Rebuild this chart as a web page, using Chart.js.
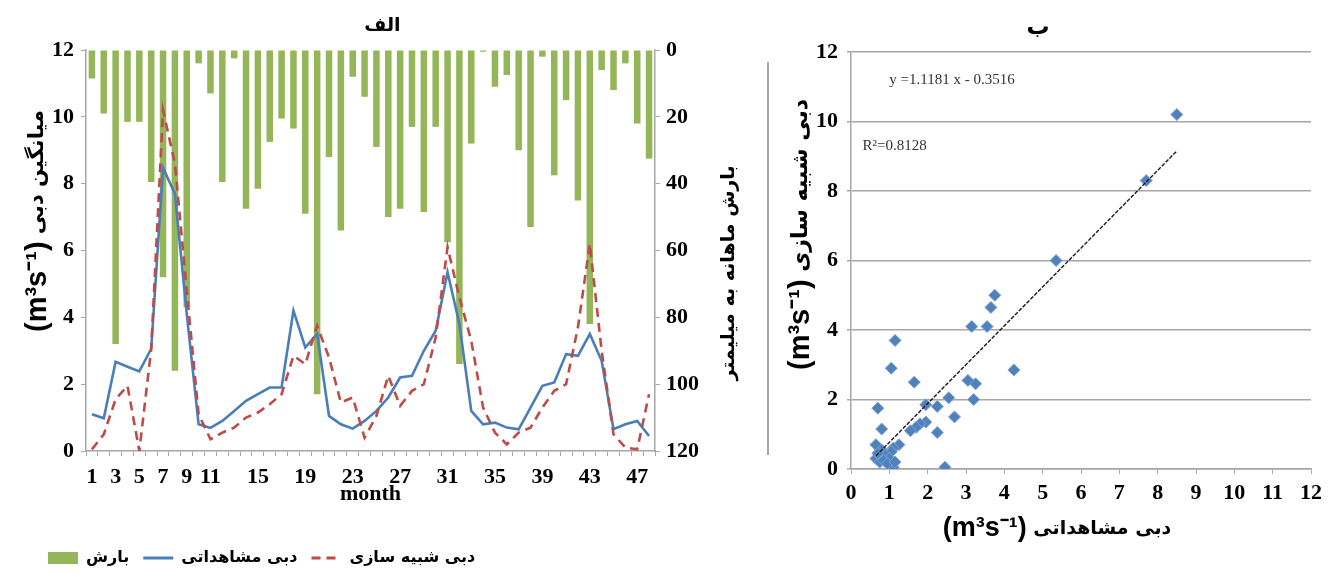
<!DOCTYPE html>
<html>
<head>
<meta charset="utf-8">
<script src="https://cdn.jsdelivr.net/npm/chart.js@4.4.1/dist/chart.umd.min.js"></script>
<style>
html,body{margin:0;padding:0;background:#ffffff;}
#wrap{position:relative;width:1330px;height:577px;overflow:hidden;background:#fff;}
.box{position:absolute;top:0;height:577px;}
</style>
</head>
<body>
<div id="wrap">
  <div class="box" style="left:0;width:765px;"><canvas id="c1"></canvas></div>
  <div class="box" style="left:765px;width:565px;"><canvas id="c2"></canvas></div>
</div>
<script>
// ---------- data ----------
const months = [1,2,3,4,5,6,7,8,9,10,11,12,13,14,15,16,17,18,19,20,21,22,23,24,
                25,26,27,28,29,30,31,32,33,34,35,36,37,38,39,40,41,42,43,44,45,46,47,48];
const monthTickLabels = [1,3,5,7,9,11,15,19,23,27,31,35,39,43,47];
const precipitation = [8.5,19,88,21.5,21.5,39.5,68,96,77,4,13,39.5,2.5,47.5,41.5,27.5,
                       20.5,23.5,49,103,32,54,8,14,29,50,47.5,23,48.5,23,57.5,94,
                       28,0.5,11,7.5,30,53,2,37.5,15,45,82,6,12,4,22,32.5];
const observedFlow = [1.1,0.98,2.67,2.52,2.38,3.06,8.47,7.7,4.1,0.8,0.69,0.9,1.2,1.5,1.7,1.9,
                      1.9,4.2,3.1,3.5,1.05,0.8,0.67,0.9,1.2,1.6,2.2,2.25,3.0,3.6,5.35,3.8,
                      1.2,0.8,0.85,0.7,0.65,1.3,1.95,2.05,2.9,2.85,3.5,2.7,0.65,0.8,0.9,0.45];
const simulatedFlow = [0.05,0.5,1.55,1.95,0.0,3.05,10.2,8.6,4.8,1.1,0.35,0.55,0.7,1.0,1.15,1.4,
                       1.7,2.85,2.6,3.75,2.8,1.45,1.6,0.4,1.05,2.25,1.35,1.8,2.0,3.4,6.1,4.6,
                       3.3,1.3,0.55,0.2,0.55,0.7,1.3,1.8,2.0,3.7,6.2,3.0,0.5,0.1,0.05,1.7];
const flowAxisRange = [0, 12];
const flowAxisStep = 2;
const precipAxisRange = [0, 120];
const precipAxisStep = 20;

const scatterObserved = [8.5,7.7,5.35,3.75,3.65,3.55,3.15,1.15,4.25,1.05,1.65,3.05,3.25,3.2,
                         2.55,2.25,1.95,0.7,2.7,1.95,1.8,1.7,1.55,2.25,0.8,0.65,1.25,1.1,
                         1.05,0.8,0.9,0.65,1.0,0.75,0.85,1.1,2.45,0.7,0.95,1.15];
const scatterSimulated = [10.2,8.3,6.0,5.0,4.65,4.1,4.1,3.7,2.85,2.9,2.5,2.55,2.45,2.0,
                          2.05,1.8,1.85,1.75,1.5,1.35,1.3,1.2,1.1,1.05,1.15,0.7,0.7,0.6,
                          0.5,0.55,0.4,0.3,0.3,0.2,0.25,0.05,0.05,0.45,0.15,0.2];
const scatterAxisRange = [0, 12];
const trendSlope = 1.1181;
const trendIntercept = -0.3516;
const trendXRange = [0.65, 8.5];
const equationText = 'y =1.1181 x - 0.3516';
const r2Text = 'R²=0.8128';

// ---------- labels ----------
const titleA = 'الف';
const titleB = 'ب';
const lblPrecip = 'بارش';
const lblObserved = 'دبی مشاهداتی';
const lblSimulated = 'دبی شبیه سازی';
const unitText = '(m³s⁻¹)';
const leftYTitle = 'میانگین دبی';
const rightYTitle = 'بارش ماهانه به میلیمتر';

// ---------- styling helpers ----------
const GREEN = '#94b659', BLUE = '#4a7ebb', RED = '#be4b48', AXIS = '#a6a6a6';
const tickFont = {family: '"Liberation Serif", "Times New Roman", serif', size: 22, weight: 'bold'};
const faFont = (s) => 'bold ' + s + 'px "DejaVu Sans", sans-serif';
const unitFont = (s) => 'bold ' + s + 'px "Liberation Sans", Arial, sans-serif';

function drawParts(ctx, x, y, angle, parts, anchor) {
  ctx.save();
  ctx.translate(x, y);
  ctx.rotate(angle);
  let total = 0;
  parts.forEach(p => { ctx.font = p.font; p.w = ctx.measureText(p.text).width; total += p.w; });
  let cx = anchor === 'center' ? -total / 2 : 0;
  ctx.textBaseline = 'middle';
  ctx.textAlign = 'left';
  ctx.fillStyle = '#000';
  parts.forEach(p => { ctx.font = p.font; ctx.fillText(p.text, cx, 0); cx += p.w; });
  ctx.restore();
}

const leftTitles = {
  id: 'leftTitles',
  afterDraw(chart) {
    const ctx = chart.ctx;
    drawParts(ctx, 38, 332, -Math.PI / 2, [
      {text: unitText, font: unitFont(29)},
      {text: ' ', font: faFont(21)},
      {text: leftYTitle, font: faFont(21)}
    ], 'start');
    drawParts(ctx, 729, 273, -Math.PI / 2, [
      {text: rightYTitle, font: faFont(19)}
    ], 'center');
  }
};

const legendShift = {
  id: 'legendShift',
  afterLayout(chart) {
    const lg = chart.legend;
    if (lg) { lg.left += 34; lg.right += 34; }
  }
};

// ---------- left chart ----------
new Chart(document.getElementById('c1'), {
  type: 'bar',
  data: {
    labels: months.map(String),
    datasets: [
      {type: 'bar', label: lblPrecip, data: precipitation, yAxisID: 'yP',
       backgroundColor: GREEN, borderWidth: 0, categoryPercentage: 1.0, barPercentage: 0.55, order: 3},
      {type: 'line', label: lblObserved, data: observedFlow, yAxisID: 'yQ',
       borderColor: BLUE, backgroundColor: BLUE, borderWidth: 2.6, pointRadius: 0, tension: 0, order: 2},
      {type: 'line', label: lblSimulated, data: simulatedFlow, yAxisID: 'yQ',
       borderColor: RED, backgroundColor: RED, borderWidth: 2.6, borderDash: [9, 6], pointRadius: 0, tension: 0, order: 1}
    ]
  },
  options: {
    responsive: true, maintainAspectRatio: false, animation: false, devicePixelRatio: 1,
    layout: {padding: {left: 0, right: 0, top: 0, bottom: 1}},
    plugins: {
      tooltip: {enabled: false},
      title: {display: true, text: titleA, color: '#000',
              font: {family: '"DejaVu Sans", sans-serif', size: 19, weight: 'bold'},
              padding: {top: 15, bottom: 12.2}},
      legend: {
        position: 'bottom', align: 'start',
        labels: {
          usePointStyle: true, pointStyleWidth: 30, boxHeight: 12, padding: 14, color: '#000',
          font: {family: '"DejaVu Sans", sans-serif', size: 16, weight: 'bold'},
          generateLabels: (chart) => chart.data.datasets.map((ds, i) => ({
            text: ds.label,
            fillStyle: ds.type === 'bar' ? ds.backgroundColor : ds.borderColor,
            strokeStyle: ds.type === 'bar' ? ds.backgroundColor : ds.borderColor,
            lineWidth: ds.type === 'bar' ? 0 : 3,
            lineDash: ds.borderDash || [],
            pointStyle: ds.type === 'bar' ? 'rect' : 'line',
            hidden: false, datasetIndex: i, fontColor: '#000'
          }))
        }
      }
    },
    scales: {
      x: {
        type: 'category', offset: true,
        grid: {display: true, drawOnChartArea: false, offset: true, tickLength: 5, color: AXIS, lineWidth: 1},
        border: {display: true, color: AXIS, width: 1.5},
        ticks: {autoSkip: false, maxRotation: 0, minRotation: 0, padding: 8, color: '#000', font: tickFont,
                callback: (v, i) => monthTickLabels.includes(months[i]) ? String(months[i]) : ''},
        title: {display: true, text: 'month', color: '#000', font: tickFont, padding: {top: 0, bottom: 28}},
        afterFit: (s) => { s.height = 85; }
      },
      yQ: {
        position: 'left', min: flowAxisRange[0], max: flowAxisRange[1],
        grid: {display: true, drawOnChartArea: false, tickLength: 5, color: AXIS},
        border: {display: true, color: AXIS, width: 1.5},
        ticks: {stepSize: flowAxisStep, padding: 7, color: '#000', font: tickFont},
        afterFit: (s) => { s.width = 86; }
      },
      yP: {
        position: 'right', min: precipAxisRange[0], max: precipAxisRange[1], reverse: true,
        grid: {display: true, drawOnChartArea: false, tickLength: 5, color: AXIS},
        border: {display: true, color: AXIS, width: 1.5},
        ticks: {stepSize: precipAxisStep, padding: 6, color: '#000', font: tickFont},
        afterFit: (s) => { s.width = 110; }
      }
    }
  },
  plugins: [leftTitles, legendShift]
});

// ---------- right chart ----------
const rightDecor = {
  id: 'rightDecor',
  beforeDraw(chart) {
    const ctx = chart.ctx;
    ctx.save();
    ctx.strokeStyle = AXIS; ctx.lineWidth = 2;
    ctx.beginPath(); ctx.moveTo(3, 62); ctx.lineTo(3, 455); ctx.stroke();
    ctx.restore();
  },
  afterDraw(chart) {
    const ctx = chart.ctx;
    const xs = chart.scales.x, ys = chart.scales.y;
    ctx.save();
    ctx.fillStyle = '#333';
    ctx.textBaseline = 'middle'; ctx.textAlign = 'left';
    ctx.font = '15px "Liberation Serif", serif';
    ctx.fillText(equationText, xs.getPixelForValue(1.0), ys.getPixelForValue(11.2));
    ctx.fillText(r2Text, xs.getPixelForValue(0.3), ys.getPixelForValue(9.3));
    ctx.restore();
    drawParts(ctx, 36, 370, -Math.PI / 2, [
      {text: unitText, font: unitFont(29)},
      {text: ' ', font: faFont(22)},
      {text: lblSimulated, font: faFont(22)}
    ], 'start');
    drawParts(ctx, 292, 529, 0, [
      {text: unitText, font: unitFont(27)},
      {text: ' ', font: faFont(19)},
      {text: lblObserved, font: faFont(19)}
    ], 'center');
  }
};

new Chart(document.getElementById('c2'), {
  type: 'scatter',
  data: {
    datasets: [
      {label: 'points', data: scatterObserved.map((x, i) => ({x: x, y: scatterSimulated[i]})),
       pointStyle: 'rectRot', pointRadius: 6, backgroundColor: '#4f81bd', borderColor: '#7ea3d3', borderWidth: 1, order: 2},
      {type: 'line', label: 'trend', data: trendXRange.map(x => ({x: x, y: trendSlope * x + trendIntercept})),
       borderColor: '#1a1a1a', borderWidth: 1.4, borderDash: [4, 1.5], pointRadius: 0, showLine: true, order: 1}
    ]
  },
  options: {
    responsive: true, maintainAspectRatio: false, animation: false, devicePixelRatio: 1,
    layout: {padding: {left: 0, right: 19, top: 0, bottom: 28}},
    plugins: {
      tooltip: {enabled: false},
      legend: {display: false},
      title: {display: true, text: titleB, color: '#000',
              font: {family: '"DejaVu Sans", sans-serif', size: 23, weight: 'bold'},
              padding: {top: 14, bottom: 10.4}}
    },
    scales: {
      x: {
        type: 'linear', min: scatterAxisRange[0], max: scatterAxisRange[1],
        grid: {display: true, drawOnChartArea: false, tickLength: 5, color: AXIS},
        border: {display: true, color: AXIS, width: 1.5},
        ticks: {stepSize: 1, padding: 6, color: '#000', font: tickFont, maxRotation: 0, autoSkip: false},
        afterFit: (s) => { s.height = 80; }
      },
      y: {
        min: scatterAxisRange[0], max: scatterAxisRange[1],
        grid: {display: true, drawOnChartArea: true, tickLength: 4, color: AXIS, lineWidth: 1.5},
        border: {display: true, color: AXIS, width: 1.5},
        ticks: {stepSize: 2, padding: 9, color: '#000', font: tickFont},
        afterFit: (s) => { s.width = 86; }
      }
    }
  },
  plugins: [rightDecor]
});
</script>
</body>
</html>
